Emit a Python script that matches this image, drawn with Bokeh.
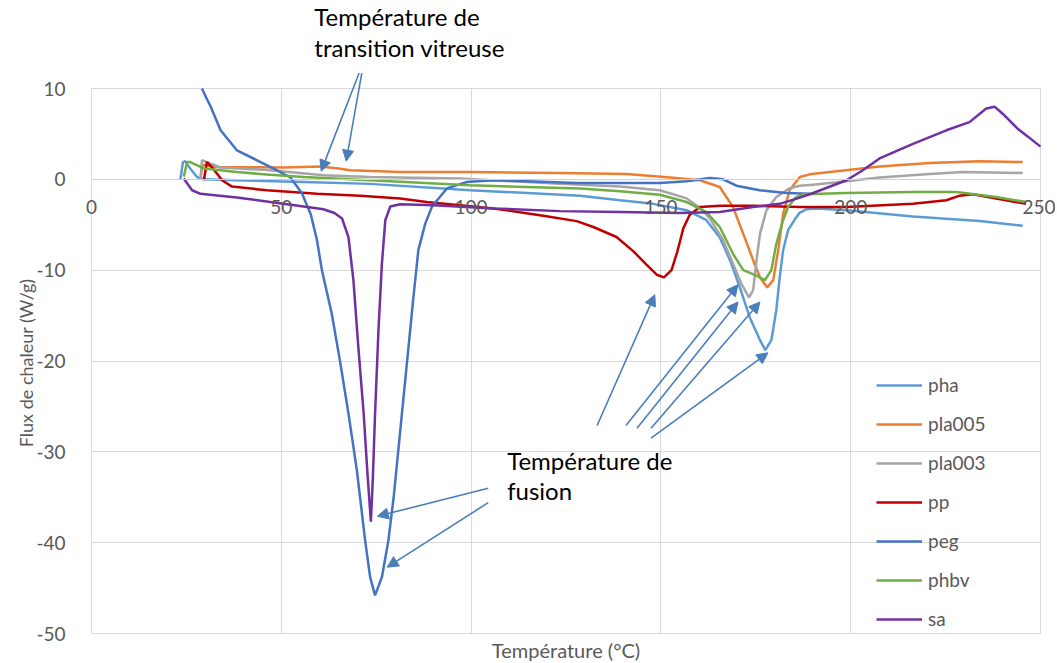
from math import pi
from bokeh.plotting import figure
from bokeh.models import Range1d, FixedTicker, Legend, LegendItem, Label, Arrow, NormalHead
from bokeh.embed import file_html
from bokeh.resources import INLINE

# ---------------- data ----------------
x_ticks = [0, 50, 100, 150, 200, 250]
y_ticks = [-50, -40, -30, -20, -10, 0, 10]

names = ["pha", "pla005", "pla003", "pp", "peg", "phbv", "sa"]
colors = ["#5B9BD5", "#ED7D31", "#A5A5A5", "#C00000", "#4472C4", "#70AD47", "#7030A0"]

pha_x = [23.4, 24.1, 24.7, 26.0, 27.8, 29.6, 38.3, 55.9, 73.4, 99.7, 128.7, 139.2, 148.0, 156.8,
         162.0, 165.5, 168.2, 170.8, 173.4, 176.1, 177.5, 179.1, 180.4, 181.3, 182.2, 183.5,
         185.3, 186.5, 188.3, 191.0, 198.9, 216.4, 233.9, 245.3]
pha_y = [0.0, 1.9, 2.0, 1.2, 0.25, 0.0, -0.1, -0.3, -0.5, -1.2, -1.8, -2.3, -2.7, -3.4,
         -4.5, -6.4, -8.9, -11.9, -15.2, -17.7, -18.8, -17.7, -14.4, -10.8, -7.8, -5.6,
         -4.4, -3.7, -3.3, -3.2, -3.4, -4.1, -4.6, -5.1]

pla005_x = [28.7, 29.2, 30.5, 33.1, 50.6, 60.3, 65.0, 68.2, 81.3, 99.7, 123.4, 141.0, 152.4,
            160.3, 165.5, 169.0, 171.7, 174.3, 176.1, 178.0, 179.6, 180.9, 182.2, 183.9,
            186.6, 189.2, 194.5, 207.6, 220.8, 233.9, 245.3]
pla005_y = [0.0, 1.6, 1.5, 1.35, 1.3, 1.4, 1.2, 1.0, 0.8, 0.8, 0.7, 0.6, 0.2,
            -0.1, -0.85, -3.05, -6.0, -8.9, -10.8, -11.9, -11.1, -7.8, -3.8, -1.2,
            0.25, 0.55, 0.8, 1.4, 1.8, 2.0, 1.9]

pla003_x = [28.7, 29.1, 30.4, 34.0, 47.1, 57.6, 61.1, 73.4, 97.1, 123.4, 139.2, 149.7, 156.8,
            160.5, 162.9, 166.4, 169.0, 171.2, 173.2, 174.3, 175.2, 176.1, 177.8, 180.4,
            183.9, 186.6, 190.0, 198.9, 207.6, 220.8, 229.6, 245.3]
pla003_y = [0.0, 2.1, 1.9, 1.3, 1.0, 0.6, 0.45, 0.25, 0.1, -0.5, -0.8, -1.2, -2.1,
            -3.2, -4.3, -6.7, -9.3, -11.5, -13.0, -12.2, -8.9, -6.0, -3.4, -1.95,
            -1.0, -0.7, -0.6, -0.2, 0.2, 0.6, 0.8, 0.7]

pp_x = [29.6, 30.4, 32.0, 34.4, 37.0, 46.2, 59.4, 70.8, 81.3, 88.3, 105.9, 119.0, 127.8, 132.2,
        138.3, 142.7, 146.2, 148.9, 150.8, 152.8, 154.3, 155.9, 157.6, 160.3, 165.5, 174.3,
        186.6, 198.9, 216.4, 225.2, 228.7, 232.2, 238.3, 246.2]
pp_y = [-0.1, 1.9, 1.2, -0.1, -0.8, -1.2, -1.6, -1.8, -2.1, -2.5, -3.2, -4.0, -4.6, -5.25,
        -6.35, -7.9, -9.4, -10.5, -10.8, -10.0, -8.0, -5.4, -3.9, -3.05, -2.9, -2.9,
        -3.05, -3.05, -2.7, -2.3, -1.8, -1.65, -2.1, -2.7]

peg_x = [29.1, 30.2, 31.3, 34.0, 38.3, 43.6, 47.9, 52.4, 55.4, 57.8, 59.4, 60.7, 63.3, 65.5,
         67.7, 69.9, 72.1, 73.4, 74.7, 76.5, 78.2, 79.6, 80.9, 82.2, 83.5, 84.8, 86.1, 87.9,
         89.7, 93.6, 98.9, 105.9, 114.6, 127.8, 149.7, 156.8, 162.9, 166.4, 169.9, 176.0,
         183.0, 189.2]
peg_y = [10.0, 9.0, 8.1, 5.4, 3.2, 2.1, 1.2, 0.2, -1.5, -3.9, -6.7, -10.0, -14.8, -20.1,
         -25.8, -32.0, -39.8, -43.8, -45.8, -43.8, -39.8, -35.0, -29.5, -24.0, -18.5, -13.0,
         -7.8, -4.9, -3.0, -1.0, -0.3, -0.1, -0.2, -0.4, -0.4, -0.2, 0.15, 0.0, -0.7, -1.2,
         -1.5, -1.6]

phbv_x = [24.3, 25.2, 26.0, 29.6, 38.3, 47.1, 55.9, 73.4, 99.7, 128.7, 139.2, 149.7, 156.8,
          162.0, 165.5, 169.0, 171.7, 175.2, 177.4, 179.1, 180.4, 182.2, 183.5, 185.5, 187.5,
          198.9, 216.4, 227.8, 238.3, 246.2]
phbv_y = [0.3, 1.9, 1.9, 1.2, 0.8, 0.5, 0.25, -0.1, -0.66, -1.0, -1.3, -1.7, -2.5,
          -3.6, -5.25, -8.2, -10.0, -10.6, -11.1, -10.0, -7.1, -4.5, -3.05, -2.0, -1.65,
          -1.5, -1.4, -1.4, -1.95, -2.5]

sa_x = [24.3, 26.5, 28.7, 38.3, 47.1, 55.9, 61.1, 64.0, 66.0, 67.7, 69.0, 70.3, 71.7, 72.7,
        73.6, 74.1, 74.7, 75.6, 76.5, 77.4, 78.7, 81.3, 90.1, 105.9, 123.4, 139.2, 155.0,
        165.5, 174.3, 181.3, 186.0, 190.1, 198.9, 203.2, 207.6, 216.4, 225.2, 231.3, 235.7,
        237.9, 240.1, 243.9, 246.7, 250.0]
sa_y = [0.1, -1.2, -1.6, -2.0, -2.5, -3.0, -3.3, -3.7, -4.3, -6.4, -11.1, -18.5, -25.8, -32.4,
        -37.7, -33.1, -25.8, -16.6, -9.3, -4.5, -3.0, -2.75, -2.86, -3.2, -3.5, -3.6, -3.7,
        -3.6, -3.05, -2.7, -2.1, -1.5, -0.1, 1.0, 2.3, 3.9, 5.4, 6.3, 7.8,
        8.0, 7.2, 5.6, 4.7, 3.6]

series_x = [pha_x, pla005_x, pla003_x, pp_x, peg_x, phbv_x, sa_x]
series_y = [pha_y, pla005_y, pla003_y, pp_y, peg_y, phbv_y, sa_y]

x_title = "Température (°C)"
y_title = "Flux de chaleur (W/g)"
note_tg = ["Température de", "transition vitreuse"]
note_tf = ["Température de", "fusion"]

# ---------------- layout constants ----------------
FONT = "Lato"
GRAY_TXT = "#595959"
GRID = "#d9d9d9"
ARROW_C = "#4A7EBB"

W, H = 1055, 661
PX_X = 949 / 250.0     # pixels per degree
PX_Y = 545 / 60.0      # pixels per W/g
LEFT_PX, TOP_PX = 91, 88   # canvas position of (0, 10)
x_lo = -LEFT_PX / PX_X
x_hi = 250 + (W - LEFT_PX - 949) / PX_X
y_hi = 10 + TOP_PX / PX_Y
y_lo = -50 - (H - TOP_PX - 545) / PX_Y

p = figure(width=W, height=H, x_range=Range1d(x_lo, x_hi), y_range=Range1d(y_lo, y_hi),
           output_backend="svg", toolbar_location=None,
           min_border_left=0, min_border_right=0, min_border_top=0, min_border_bottom=0)
p.outline_line_color = None
p.background_fill_color = "white"
p.border_fill_color = "white"

p.xgrid.ticker = FixedTicker(ticks=x_ticks)
p.ygrid.ticker = FixedTicker(ticks=y_ticks)
p.xgrid.grid_line_color = GRID
p.ygrid.grid_line_color = GRID
try:
    p.xgrid.bounds = (0, 250)
    p.ygrid.bounds = (-50, 10)
    p.xgrid.cross_bounds = (-50, 10)
    p.ygrid.cross_bounds = (0, 250)
except AttributeError:
    p.xgrid.visible = False
    p.ygrid.visible = False
    p.segment(x0=x_ticks, y0=[y_ticks[0]] * len(x_ticks), x1=x_ticks,
              y1=[y_ticks[-1]] * len(x_ticks), line_color=GRID, line_width=1)
    p.segment(x0=[x_ticks[0]] * len(y_ticks), y0=y_ticks, x1=[x_ticks[-1]] * len(y_ticks),
              y1=y_ticks, line_color=GRID, line_width=1)

# x axis crossing at y = 0
xa = p.xaxis[0]
xa.fixed_location = 0
xa.bounds = (0, 250)
xa.ticker = FixedTicker(ticks=x_ticks)
xa.axis_line_color = "#d0d0d0"
xa.axis_line_width = 1
xa.major_tick_line_color = None
xa.minor_tick_line_color = None
xa.major_label_standoff = 15
xa.major_label_text_font = FONT
xa.major_label_text_font_size = "19px"
xa.major_label_text_color = GRAY_TXT

# y axis at x = 0
ya = p.yaxis[0]
ya.fixed_location = 0
ya.bounds = (-50, 10)
ya.ticker = FixedTicker(ticks=y_ticks)
ya.major_label_overrides = {t: str(t) for t in y_ticks}
ya.axis_line_color = None
ya.major_tick_line_color = None
ya.minor_tick_line_color = None
ya.major_label_standoff = 20
ya.major_label_text_font = FONT
ya.major_label_text_font_size = "19px"
ya.major_label_text_color = GRAY_TXT

renderers = []
for name, c, xs, ys in zip(names, colors, series_x, series_y):
    r = p.line(xs, ys, line_color=c, line_width=2.5)
    renderers.append(r)

legend = Legend(items=[LegendItem(label=n, renderers=[r]) for n, r in zip(names, renderers)],
                location=(876, 31), orientation="vertical",
                background_fill_alpha=0, border_line_alpha=0, padding=0, margin=0,
                spacing=16, glyph_width=46, glyph_height=20, label_height=20, label_standoff=6,
                label_text_font=FONT, label_text_font_size="19px", label_text_color=GRAY_TXT)
p.add_layout(legend)

# axis titles
p.add_layout(Label(x=125, y=(179 - 650) / PX_Y, text=x_title, text_align="center",
                   text_baseline="middle", text_font=FONT, text_font_size="20px",
                   text_color=GRAY_TXT))
p.add_layout(Label(x=(25 - 91) / PX_X, y=-20.2, text=y_title, angle=pi / 2,
                   text_align="center", text_baseline="middle", text_font=FONT,
                   text_font_size="18px", text_color=GRAY_TXT))

# annotations
for txt, xx, yy in [(note_tg[0], 58.7, 17.95), (note_tg[1], 58.7, 14.54),
                    (note_tf[0], 109.5, -30.95), (note_tf[1], 109.5, -34.25)]:
    p.add_layout(Label(x=xx, y=yy, text=txt, text_font=FONT, text_font_size="24px",
                       text_color="black", text_baseline="alphabetic"))

arrows = [
    (70.5, 11.7, 60.5, 0.9),
    (71.2, 11.7, 67.1, 2.0),
    (104.5, -34.0, 75.3, -37.1),
    (104.5, -35.6, 77.9, -42.7),
    (133.2, -27.1, 148.4, -12.7),
    (140.8, -27.1, 170.3, -11.6),
    (143.7, -27.4, 170.3, -13.5),
    (147.4, -27.4, 176.1, -13.5),
    (147.4, -28.5, 178.2, -19.1),
]
for xs0, ys0, xe, ye in arrows:
    p.add_layout(Arrow(x_start=xs0, y_start=ys0, x_end=xe, y_end=ye,
                       line_color=ARROW_C, line_width=1.6,
                       end=NormalHead(size=11, fill_color=ARROW_C, line_color=ARROW_C)))

open("out.html", "w").write(file_html(p, INLINE))
